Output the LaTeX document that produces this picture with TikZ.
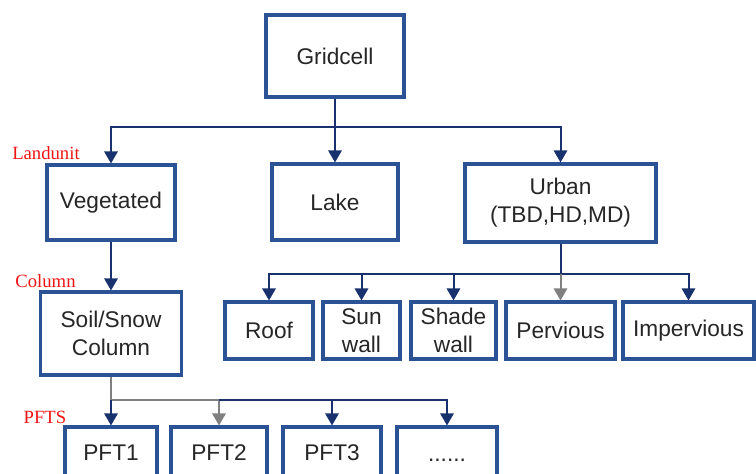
\documentclass[tikz,border=0pt]{standalone}
\usepackage{fontspec}
\setmainfont{Liberation Sans}
\newfontfamily\tagfont{Liberation Serif}
\usetikzlibrary{arrows.meta}

\definecolor{boxblue}{RGB}{44,82,150}
\definecolor{linkblue}{RGB}{25,50,110}
\definecolor{linkgray}{RGB}{128,128,128}
\definecolor{boxtext}{RGB}{38,38,38}
\definecolor{tagred}{RGB}{240,20,20}

\begin{document}
\begin{tikzpicture}[x=0.75pt, y=-0.75pt,
  box/.style={draw=boxblue, line width=2.3pt, fill=white, text=boxtext, align=center,
    font=\fontsize{17}{21}\selectfont, inner sep=0pt},
  sz/.style 2 args={minimum width=#1*0.75pt, minimum height=#2*0.75pt},
  link/.style={draw=linkblue, line width=1.5pt, -{Triangle[length=9pt,width=10pt]}},
  glink/.style={link, draw=linkgray},
  tag/.style={text=tagred, font=\tagfont\fontsize{14}{16}\selectfont, inner sep=0pt}]
  \useasboundingbox (0,0) rectangle (756,474);
  \clip (0,0) rectangle (756,474);

  % Gridcell and landunits
  \node[box, sz={138}{82}] (grid) at (335,56) {Gridcell};
  \node[box, sz={128}{75}] (veg) at (111,202.5) {Vegetated};
  \node[box, sz={126}{76}] (lake) at (335,202) {Lake};
  \node[box, sz={191}{78}] (urban) at (560.5,203) {Urban\\(TBD,HD,MD)};

  % Column
  \node[box, sz={141}{83}] (soil) at (111,333.5) {Soil/Snow\\Column};

  % Urban columns
  \node[box, sz={88}{57}] (roof) at (269,330.5) {Roof};
  \node[box, sz={77}{57}] (sun) at (361.5,330.5) {Sun\\wall};
  \node[box, sz={85}{57}] (shade) at (453.5,330.5) {Shade\\wall};
  \node[box, sz={109}{57}] (perv) at (560.5,330.5) {Pervious};
  \node[box, sz={131}{57}] (imperv) at (688.5,330.5) {Impervious};

  % PFTs
  \node[box, sz={92}{52}] (pft1) at (111,453) {PFT1};
  \node[box, sz={96}{52}] (pft2) at (219,453) {PFT2};
  \node[box, sz={98}{52}] (pft3) at (332,453) {PFT3};
  \node[box, sz={100}{52}, text height=12.2pt, text depth=0pt] (pftn) at (447,453) {......};

  % Level tags
  \node[tag] (tland) at (46,153) {Landunit};
  \node[tag] (tcol) at (45.5,281) {Column};
  \node[tag] (tpft) at (45,417) {PFTS};

  % Gridcell to landunits
  \draw[link] (grid) -- (lake);
  \draw[link] (grid.south) -- ++(0,28) -| (veg.north);
  \draw[link] (grid.south) -- ++(0,28) -| (urban.north);

  % Vegetated to column
  \draw[link] (veg) -- (soil);

  % Urban to its columns
  \path (urban.south) ++(0,30) coordinate (ubus);
  \draw[link, -] (urban.south) -- (ubus);
  \draw[link] (ubus) -| (roof.north);
  \draw[link] (ubus) -| (sun.north);
  \draw[link] (ubus) -| (shade.north);
  \draw[link] (ubus) -| (imperv.north);
  \draw[glink] (ubus) -- (perv.north);

  % Column to PFTs
  \path (soil.south) ++(0,23) coordinate (pbus);
  \draw[glink] (soil.south) -- (pbus) -| (pft2.north);
  \draw[link] (pbus) -- (pft1.north);
  \draw[link] (pft2.north |- pbus) -| (pft3.north);
  \draw[link] (pft2.north |- pbus) -| (pftn.north);
\end{tikzpicture}
\end{document}
